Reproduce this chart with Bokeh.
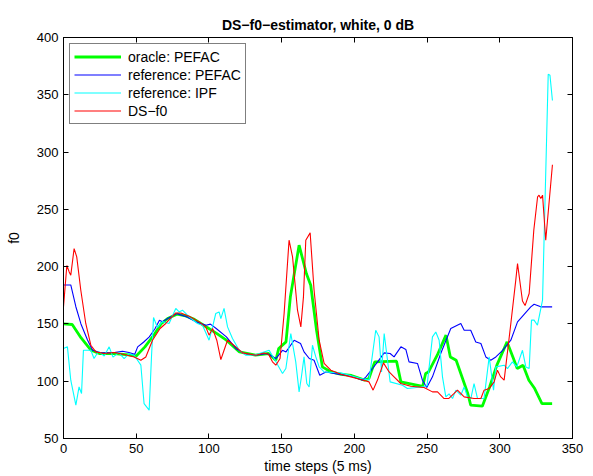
from bokeh.plotting import figure
from bokeh.models import Range1d, LinearAxis, FixedTicker
from bokeh.embed import file_html
from bokeh.resources import INLINE

# ---- data ----
oracle_x = [0, 6, 12, 19, 25, 35, 45, 50, 56, 62, 67, 72, 78, 84, 90, 98, 105, 112, 121, 132,
            141, 146, 148, 153, 156, 162, 167, 170, 174, 178, 184, 191, 198, 207, 210, 214, 229, 232, 247, 249,
            251, 257, 263, 266, 270, 278, 280, 288, 293, 298, 305, 309, 312, 316, 320, 324, 329, 336]
oracle_y = [150, 149.5, 138, 127, 124, 124, 123, 122, 130, 140, 150, 155, 158.5, 157, 154, 147.5, 142, 135.8, 125.6, 122.7,
            124.2, 118.3, 128.6, 134.3, 173.6, 218.7, 194, 183.8, 144.5, 112.5, 108.1, 106, 105, 101, 102.4, 116.9, 117.5, 99.4, 95.6, 106.7,
            108.1, 122.7, 140.2, 121.2, 118.3, 89.3, 79.1, 78.2, 95, 114, 134.3, 121.2, 111.1, 114, 100.9, 93.6, 80.5, 80.5]

pefac_x = [0, 5, 8.5, 12, 16.5, 20, 25, 30, 35, 40.6, 45, 49, 51, 55, 59, 63, 66, 68, 72, 78,
           85, 91, 98, 101, 105, 112, 118.5, 124, 132, 140, 146, 150.6, 153, 158.6, 163, 165.4, 169, 172.3, 176.2, 180.4,
           190, 197.6, 205.6, 208, 212.5, 216, 220.5, 224.6, 227.3, 232, 235.4, 237.6, 243.4, 246.8, 249.8, 253.7, 259.4, 266.3, 273.2, 275.5,
           280, 283.5, 287, 290.4, 293.8, 297.3, 302, 307.6, 312.2, 321.3, 323.6, 328.2, 336]
pefac_y = [184, 184, 165, 150, 136, 127, 125, 124.7, 125, 126.2, 125, 123.6, 130, 134, 138.7, 146, 153.3, 152, 155, 159,
           156, 151.8, 148.9, 149.8, 146, 138.7, 128.6, 124.2, 122.7, 124.2, 119.8, 127, 125.6, 135.8, 132.9, 125.6, 119.8, 118.3, 105.2, 108.1,
           106, 104.6, 100.9, 103.8, 111.1, 116.9, 124.7, 124.2, 121.2, 130, 127.7, 116.9, 115.5, 100.9, 94.5, 103.8, 124.2, 146, 150.4, 144.5,
           144.5, 134.3, 132.9, 121.2, 118.3, 121.2, 127, 135.8, 151.8, 164.9, 167.2, 164.9, 164.9]

ipf_x = [0, 2.7, 5, 8.5, 10.7, 12.4, 13.7, 18.8, 21, 24, 28, 31.4, 34, 38, 41.7, 45, 48.6, 53.2, 55.4, 58.9,
         60.5, 61.9, 64.6, 68, 72.6, 77.2, 79.5, 81.8, 86.4, 92.1, 95.6, 100.1, 102.5, 104.7, 107, 108.2, 110.4, 112.8, 116.2, 120.8,
         125.4, 132.2, 141.4, 144.8, 150.6, 152.9, 156.3, 159.7, 162, 163.6, 165.4, 167.3, 168.9, 171.2, 173.5, 175.8, 179.2, 190.7, 204.4, 210.1,
         214.7, 217, 218.7, 220.5, 222.8, 224.6, 233.1, 236.5, 245.7, 250, 253.7, 256, 258.3, 260.6, 262.9, 265.1, 267.5, 269.8, 273.2, 275.5,
         277.8, 280.1, 282.3, 284.7, 289.2, 292.7, 295.7, 297.3, 303, 305.3, 308.7, 311.7, 315.6, 317.9, 320.2, 321.8, 323.6, 325.9, 329.4, 333.3,
         334.5, 336.2]
ipf_y = [128.6, 130, 100.9, 79.1, 95, 89.3, 127, 127, 119.8, 126, 122, 130, 121, 125, 119.8, 124, 122.7, 114, 80.5, 74.7,
         121.2, 155.6, 146.9, 152, 150.4, 163.5, 160.5, 162, 156.1, 150.4, 148.9, 135.8, 147.4, 159.1, 160.5, 154.7, 163.5, 147.4, 137.3, 127,
         122.7, 123, 127, 119.8, 106.7, 111.1, 141.6, 116.9, 90.7, 103.8, 121.2, 98, 95, 131.4, 121.2, 112.5, 108.1, 107.3, 102.4, 101,
         144.5, 138.7, 108.1, 141.6, 118.3, 99.4, 96.5, 93.6, 95, 96, 138.7, 143, 135.8, 103.8, 86.3, 89, 84.9, 92.2, 87.8, 95,
         86.3, 84.9, 98, 84.9, 84.9, 121.2, 92.2, 112.5, 114, 111, 116.9, 112.5, 127, 112.5, 111.1, 153.3, 153.3, 148.9, 170.7, 368,
         367, 345]

ds_x = [0, 2.3, 3.9, 5, 7.3, 9.1, 11.9, 15.3, 18.8, 22.2, 27.9, 35, 41.7, 48.6, 53.2, 56.6, 61.2, 66.4, 70.3, 77.2,
        80.7, 86.4, 93.2, 97.8, 100.1, 102.5, 105.4, 108.2, 110.4, 112.8, 118.5, 123.1, 132.2, 137.9, 141, 143.7, 146, 148.9, 151.7, 155.1,
        157.5, 160.9, 163.2, 165, 166.6, 169.6, 172.3, 175.8, 179.2, 183.8, 190.7, 197.6, 204.4, 210.1, 212.9, 215.9, 220, 223.9, 227.3, 231.9,
        238.8, 247.9, 253.7, 257.2, 261.7, 265, 268.6, 270.9, 275.5, 282.3, 287, 289.2, 292.7, 296.1, 298.4, 300.5, 303, 307.6, 311, 312.2,
        315.6, 317.4, 320.2, 323.4, 326, 327, 328.2, 329.4, 331.6, 336.2]
ds_y = [165, 201, 195.4, 192.5, 215.8, 208.5, 179.4, 150.4, 131.4, 125.6, 124.2, 125, 123.3, 121.2, 118.3, 121.2, 135.8, 146, 150.4, 159.6,
        159.6, 156.7, 151.8, 147.4, 140.2, 146, 135.8, 118.9, 127, 135.8, 130, 124.7, 122.7, 124.7, 123.5, 116.9, 114, 119.8, 159.1, 223.1,
        208.5, 162, 147.4, 173.6, 223.1, 229.5, 179.4, 135.8, 115.5, 109.6, 106, 103.8, 101.5, 99.4, 92.2, 101, 116, 108.1, 103.8, 98,
        95.6, 94.5, 90.7, 90.7, 84.9, 85, 89.3, 92.2, 86.3, 84.9, 84.9, 92.2, 93.6, 99.4, 109.6, 104, 100.9, 150.4, 188.2, 202.7,
        170, 166, 176.6, 232, 261, 262.4, 259.5, 262.4, 223.1, 289]

x_ticks = [0, 50, 100, 150, 200, 250, 300, 350]
y_ticks = [50, 100, 150, 200, 250, 300, 350, 400]

FONT = "Liberation Sans"

p = figure(frame_width=509, frame_height=401,
           min_border_left=63, min_border_right=21, min_border_top=37, min_border_bottom=38,
           x_range=Range1d(0, 350), y_range=Range1d(50, 400),
           output_backend="svg", toolbar_location=None,
           title="DS\u2212f0\u2212estimator, white, 0 dB")

p.background_fill_color = "white"
p.border_fill_color = "white"
p.outline_line_color = "black"
p.outline_line_width = 1
p.xgrid.visible = False
p.ygrid.visible = False

p.title.align = "center"
p.title.text_font = FONT
p.title.text_font_size = "14px"
p.title.text_font_style = "bold"
p.title.text_color = "black"

def style_axis(ax, ticks, show_labels=True):
    ax.ticker = FixedTicker(ticks=ticks)
    ax.major_tick_in = 5
    ax.major_tick_out = 0
    ax.minor_tick_line_color = None
    ax.major_tick_line_color = "black"
    ax.axis_line_color = "black"
    ax.major_label_text_font = FONT
    if show_labels:
        ax.major_label_text_color = "black"
        ax.major_label_text_font_size = "13px"
        ax.major_label_standoff = 5
    else:
        ax.major_label_text_color = None
        ax.major_label_text_font_size = "1px"
        ax.major_label_standoff = 0

style_axis(p.xaxis[0], x_ticks)
style_axis(p.yaxis[0], y_ticks)
p.xaxis[0].axis_label = "time steps (5 ms)"
p.yaxis[0].axis_label = "f0"
for ax in (p.xaxis[0], p.yaxis[0]):
    ax.axis_label_text_font = FONT
    ax.axis_label_text_font_size = "14px"
    ax.axis_label_text_font_style = "normal"
    ax.axis_label_text_color = "black"
p.xaxis[0].axis_label_standoff = 2
p.yaxis[0].axis_label_standoff = 12

top_ax = LinearAxis()
style_axis(top_ax, x_ticks, show_labels=False)
p.add_layout(top_ax, "above")
right_ax = LinearAxis()
style_axis(right_ax, y_ticks, show_labels=False)
p.add_layout(right_ax, "right")

p.line(oracle_x, oracle_y, line_color="#00ff00", line_width=2.8, legend_label="oracle: PEFAC")
p.line(pefac_x, pefac_y, line_color="#0000ff", line_width=1.1, legend_label="reference: PEFAC")
p.line(ipf_x, ipf_y, line_color="#00ffff", line_width=1.1, legend_label="reference: IPF")
p.line(ds_x, ds_y, line_color="#ff0000", line_width=1.1, legend_label="DS\u2212f0")

lg = p.legend[0]
lg.location = "top_left"
lg.margin = 6
lg.padding = 4
lg.spacing = 1
lg.label_height = 17
lg.glyph_height = 17
lg.glyph_width = 47
lg.label_standoff = 7
lg.label_text_font = FONT
lg.label_text_font_size = "14px"
lg.label_text_color = "black"
lg.border_line_color = "black"
lg.border_line_width = 1
lg.background_fill_color = "white"
lg.background_fill_alpha = 1.0

open("out.html", "w").write(file_html(p, INLINE))
